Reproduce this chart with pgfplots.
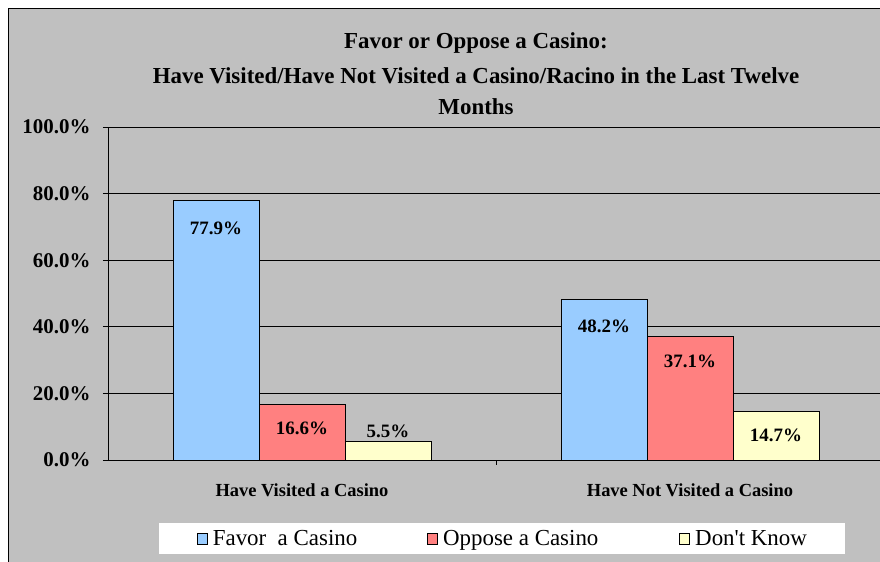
\documentclass[border=0pt]{standalone}
\usepackage{pgfplots}
\pgfplotsset{compat=1.18}
\usepackage{pgfplotstable}
\usepackage{fontspec}
\setmainfont{Liberation Serif}

\definecolor{bggray}{HTML}{C0C0C0}
\definecolor{favorc}{HTML}{99CCFF}
\definecolor{opposec}{HTML}{FF8080}
\definecolor{dunnoc}{HTML}{FFFFCC}

% x: 0 = visited, 1 = not visited; off = label shift in bp
\pgfplotstableread{
x y off
0 77.9 -28
1 48.2 -27
}\favortab
\pgfplotstableread{
x y off
0 16.6 -24
1 37.1 -25
}\opposetab
\pgfplotstableread{
x y off
0 5.5 10
1 14.7 -24
}\dunnotab

\begin{document}
\begin{tikzpicture}[x=1bp,y=1bp]
\clip (-108,-102) rectangle (772,460);
\fill[white] (-108,-102) rectangle (772,460);
\filldraw[fill=bggray,draw=black,line width=1bp] (-99,-130) -- (-99,451) -- (800,451) -- (800,-130) -- cycle;

\begin{scope}[every node/.style={font=\bfseries\fontsize{23}{26}\selectfont}]
\node at (368,417) {Favor or Oppose a Casino:};
\node at (368,384) {Have Visited/Have Not Visited a Casino/Racino in the Last Twelve};
\node at (368,353) {Months};
\end{scope}

\begin{axis}[
  at={(0,0)}, anchor=south west,
  scale only axis, width=776bp, height=333bp,
  xmin=-0.5, xmax=1.5, ymin=0, ymax=100,
  ybar=0pt, bar width=86bp,
  axis lines=left, axis line style={-, black, line width=0.8bp},
  ytick={0,20,...,100},
  yticklabel={\pgfmathprintnumber[fixed,fixed zerofill,precision=1]{\tick}\%},
  /pgf/number format/assume math mode=true,
  ymajorgrids, grid style={black, line width=0.6bp},
  tick align=outside, major tick length=5bp,
  tick style={black, line width=0.8bp},
  yticklabel style={font=\bfseries\fontsize{21}{24}\selectfont, xshift=-9bp},
  xtick={0,1},
  xticklabels={Have Visited a Casino, Have Not Visited a Casino},
  xtick style={draw=none},
  xticklabel style={font=\bfseries\fontsize{18.5}{21}\selectfont, yshift=-15bp},
  extra x ticks={0.5},
  extra x tick labels={},
  extra x tick style={xtick style={draw=black}, grid=none},
  nodes near coords={\pgfmathprintnumber[fixed,fixed zerofill,precision=1]{\pgfplotspointmeta}\%},
  visualization depends on={\thisrow{off} \as \labshift},
  every node near coord/.append style={anchor=center, yshift=\labshift bp,
    font=\bfseries\fontsize{19}{22}\selectfont, black},
  legend columns=3,
  legend style={draw=none, fill=white, at={(0.5077,-0.2357)}, anchor=center,
    font=\fontsize{23}{26}\selectfont, nodes={inner sep=0pt},
    inner xsep=38bp, inner ysep=7bp},
  /tikz/column 2/.style={column sep=70bp},
  /tikz/column 4/.style={column sep=81bp},
  legend image code/.code={\draw[#1, line width=0.8bp] (0bp,-6bp) rectangle (10bp,5bp);},
]
\addplot[fill=favorc, draw=black, line width=0.8bp] table[x=x, y=y] {\favortab};
\addplot[fill=opposec, draw=black, line width=0.8bp] table[x=x, y=y] {\opposetab};
\addplot[fill=dunnoc, draw=black, line width=0.8bp] table[x=x, y=y] {\dunnotab};
\legend{\hspace*{5bp}Favor\ \ a Casino, \hspace*{5bp}Oppose a Casino, \hspace*{5bp}Don\textquotesingle t Know}
\end{axis}
\end{tikzpicture}
\end{document}
